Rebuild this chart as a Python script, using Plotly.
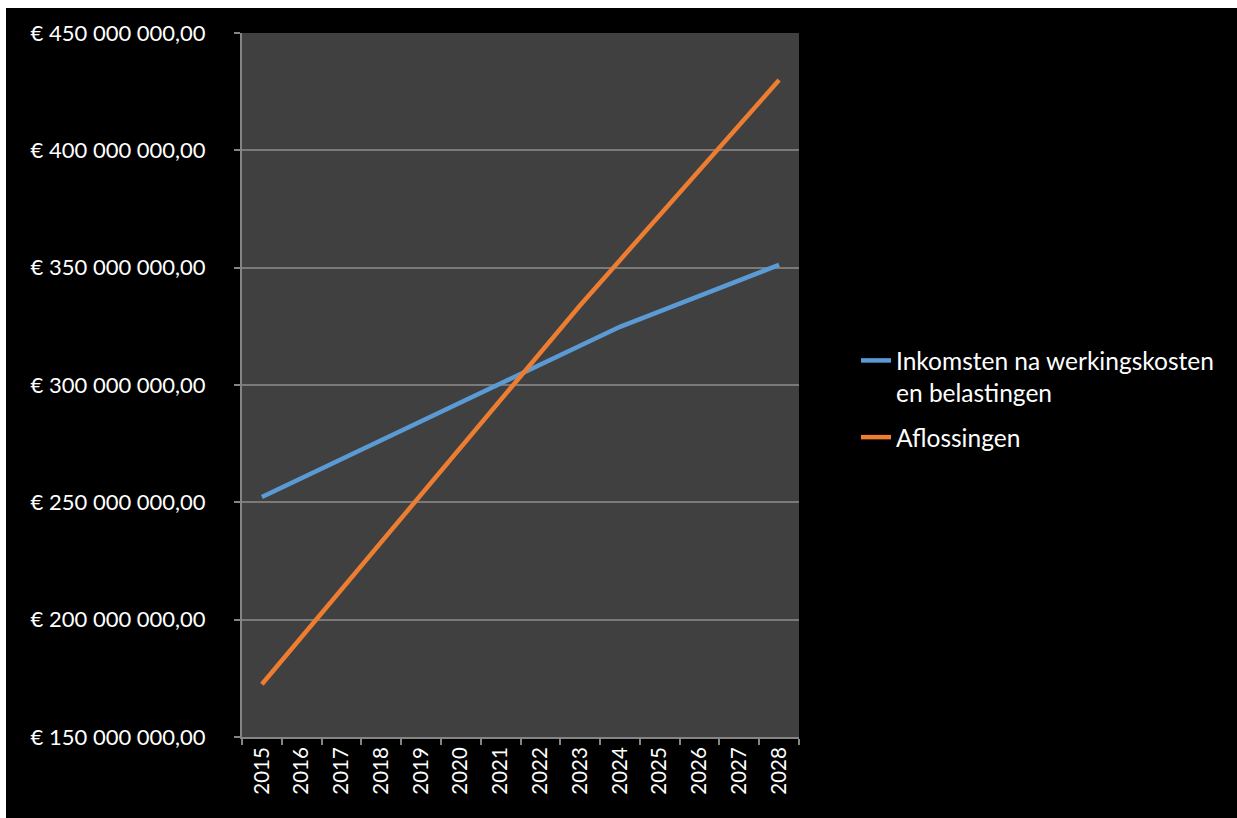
import plotly.graph_objects as go

# Jaren op de x-as
jaren = ["2015", "2016", "2017", "2018", "2019", "2020", "2021",
         "2022", "2023", "2024", "2025", "2026", "2027", "2028"]

# Inkomsten na werkingskosten en belastingen (miljoen euro)
inkomsten_mln = [252.3, 260.4, 268.4, 276.5, 284.5, 292.6, 300.6,
                 308.7, 316.7, 324.8, 331.4, 338.0, 344.6, 351.2]

# Aflossingen (miljoen euro)
aflossingen_mln = [172.5, 192.7, 212.9, 233.1, 253.3, 273.5, 293.7,
                   313.9, 334.0, 353.2, 372.4, 391.6, 410.8, 430.0]

# As-labels voor de y-as
y_waarden = [150e6, 200e6, 250e6, 300e6, 350e6, 400e6, 450e6]
y_labels = ["€ 150 000 000,00", "€ 200 000 000,00", "€ 250 000 000,00",
            "€ 300 000 000,00", "€ 350 000 000,00", "€ 400 000 000,00",
            "€ 450 000 000,00"]

naam_inkomsten = "Inkomsten na werkingskosten<br>en belastingen"
naam_aflossingen = "Aflossingen"

W, H = 1237, 818
L, R, T, B = 242, 438, 33, 81

FONT = "Lato"
GRIJS = "#858585"

fig = go.Figure()
fig.add_trace(go.Scatter(
    x=jaren, y=[v * 1e6 for v in inkomsten_mln], name=naam_inkomsten,
    legendgroup="inkomsten",
    mode="lines", line=dict(color="#5B9BD5", width=4.5)))
fig.add_trace(go.Scatter(
    x=jaren, y=[v * 1e6 for v in aflossingen_mln], name=naam_aflossingen,
    legendgroup="aflossingen",
    mode="lines", line=dict(color="#ED7D31", width=4.5)))

# Omrekening van pixels naar paper-coördinaten
pw, ph = W - L - R, H - T - B
def px_x(p):
    return (p - L) / pw
def px_y(p):
    return (H - B - p) / ph

# Witte rand links en boven
fig.update_layout(
    shapes=[
        dict(type="rect", xref="paper", yref="paper", layer="above",
             x0=px_x(-2), x1=px_x(W + 2), y0=px_y(8), y1=px_y(-2),
             fillcolor="white", line=dict(width=0)),
        dict(type="rect", xref="paper", yref="paper", layer="above",
             x0=px_x(-2), x1=px_x(6), y0=px_y(H + 2), y1=px_y(-2),
             fillcolor="white", line=dict(width=0)),
    ]
)

fig.update_layout(
    width=W, height=H,
    margin=dict(l=L, r=R, t=T, b=B, pad=0),
    paper_bgcolor="black",
    plot_bgcolor="#404040",
    font=dict(family=FONT, color="white", size=19),
    showlegend=True,
    legend=dict(x=px_x(856), y=px_y(338), xanchor="left", yanchor="top",
                valign="top",
                bgcolor="rgba(0,0,0,0)", font=dict(size=24.5, color="white"),
                tracegroupgap=10),
    xaxis=dict(
        type="category", range=[-0.5, 13.5],
        tickangle=-90, tickson="boundaries",
        ticks="outside", ticklen=6, tickcolor=GRIJS, tickwidth=1.5,
        showline=True, linecolor=GRIJS, linewidth=2,
        showgrid=False, zeroline=False,
        tickfont=dict(size=20.5, color="white"),
    ),
    yaxis=dict(
        range=[150e6, 450e6], tickvals=y_waarden, ticktext=y_labels,
        ticks="outside", ticklen=6, tickcolor=GRIJS, tickwidth=1.5,
        showline=True, linecolor=GRIJS, linewidth=2,
        showgrid=True, gridcolor="#7a7a7a", gridwidth=1.5,
        zeroline=False, ticklabelstandoff=24,
        tickfont=dict(size=22, color="white"),
    ),
)

fig.write_html("out.html")
